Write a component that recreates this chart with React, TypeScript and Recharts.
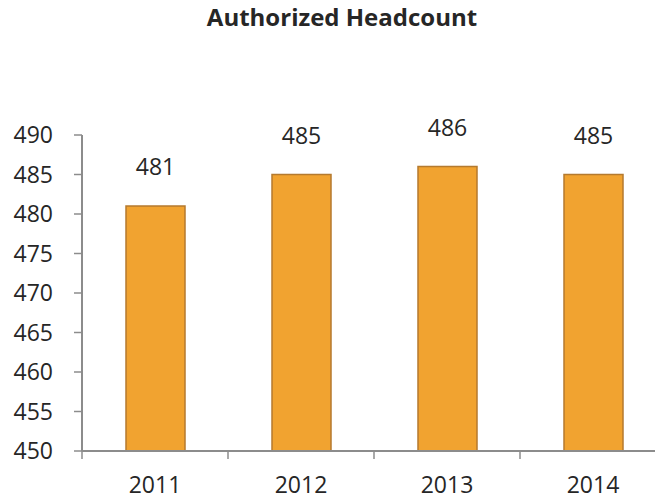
import React from "react";
import { BarChart, Bar, XAxis, YAxis, LabelList } from "recharts";

const years = ["2011", "2012", "2013", "2014"];
const headcount = [481, 485, 486, 485];
const yTicks = [450, 455, 460, 465, 470, 475, 480, 485, 490];

const data = years.map((year, i) => ({ year, value: headcount[i] }));

const FONT = "'Open Sans', sans-serif";
const AXIS = "#8c8c8c";
const TEXT = "#262626";
const TICK_SIZE = 8;
const TICK_MARGIN = 24;

// x tick: label at category center, tick marks at the category boundaries
const YearTick = (props: any) => {
  const { x, y, payload, index, visibleTicksCount } = props;
  const half = payload.offset || 73;
  const axisY = y - TICK_SIZE - TICK_MARGIN;
  const last = index === visibleTicksCount - 1;
  return (
    <g>
      <line x1={x - half} x2={x - half} y1={axisY} y2={axisY + TICK_SIZE} stroke={AXIS} strokeWidth={1.5} />
      {last && (
        <line x1={x + half} x2={x + half} y1={axisY} y2={axisY + TICK_SIZE} stroke={AXIS} strokeWidth={1.5} />
      )}
      <text x={x} y={axisY + 42} textAnchor="middle" fontSize={23} fontFamily={FONT} fill={TEXT}>
        {payload.value}
      </text>
    </g>
  );
};

export default function App() {
  return (
    <div
      style={{
        position: "absolute",
        left: 0,
        top: 0,
        width: 655,
        height: 499,
        overflow: "hidden",
        background: "#fff",
        fontFamily: FONT,
      }}
    >
      <div
        style={{
          position: "absolute",
          top: 0,
          left: 342 - 200,
          width: 400,
          textAlign: "center",
          fontSize: 24,
          fontWeight: 700,
          color: TEXT,
        }}
      >
        Authorized Headcount
      </div>
      <BarChart
        width={680}
        height={499}
        data={data}
        margin={{ top: 135, right: 14, left: 0, bottom: 8 }}
      >
        <XAxis
          dataKey="year"
          height={40}
          axisLine={{ stroke: AXIS, strokeWidth: 2 }}
          tickLine={false}
          tickSize={TICK_SIZE}
          tickMargin={TICK_MARGIN}
          tick={<YearTick />}
          interval={0}
        />
        <YAxis
          width={82}
          domain={[450, 490]}
          ticks={yTicks}
          interval={0}
          allowDataOverflow
          axisLine={{ stroke: AXIS, strokeWidth: 2 }}
          tickLine={{ stroke: AXIS, strokeWidth: 1.5 }}
          tickSize={8}
          tickMargin={21}
          tick={{ fontSize: 23, fontFamily: FONT, fill: TEXT }}
        />
        <Bar
          dataKey="value"
          barSize={59}
          fill="#F1A330"
          stroke="#B57A2E"
          strokeWidth={1.5}
          isAnimationActive={false}
        >
          <LabelList
            dataKey="value"
            position="top"
            offset={31}
            fontSize={23}
            fontFamily={FONT}
            fill={TEXT}
          />
        </Bar>
      </BarChart>
    </div>
  );
}
